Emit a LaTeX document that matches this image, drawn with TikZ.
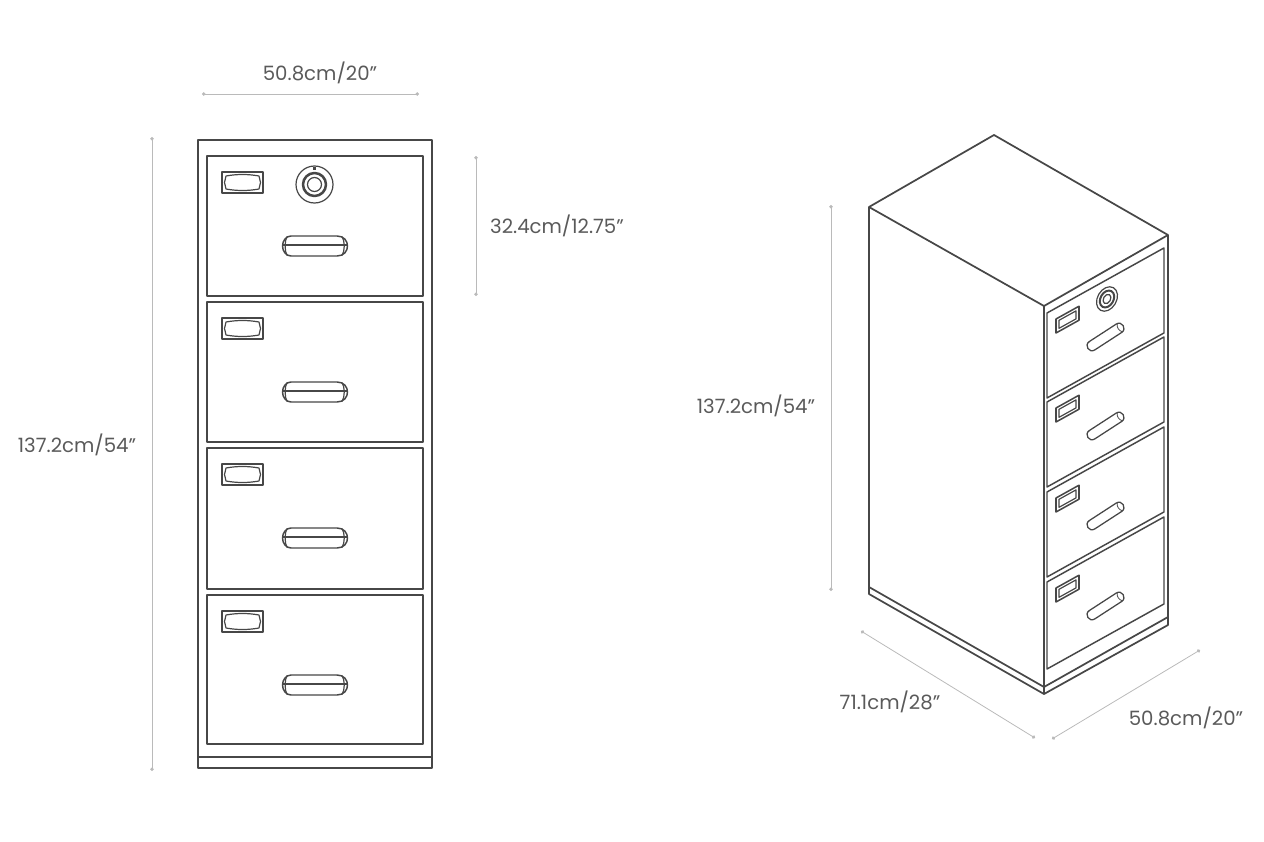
\documentclass[tikz,border=0pt]{standalone}
\usepackage{fontspec}
\setmainfont{Poppins}
\usetikzlibrary{arrows.meta}
\definecolor{ink}{HTML}{474747}
\definecolor{dimline}{HTML}{BABABA}
\definecolor{dimtext}{HTML}{5A5A5A}
\tikzset{
  cab/.style={draw=ink,line width=1.3pt,line join=round},
  thin part/.style={draw=ink,line width=.9pt,line join=round},
  dim/.style={draw=dimline,line width=.6pt,{Circle[length=2.6pt]}-{Circle[length=2.6pt]}},
  dimlabel/.style={text=dimtext,font=\fontsize{14.8pt}{16pt}\selectfont,inner sep=0pt,anchor=center}
}
% front-view label plate and handle, relative to drawer's top-left corner
\newcommand{\frontbits}[2]{%
  \begin{scope}[shift={(#1,#2)}]
    \draw[thin part] (15,16) rectangle (56,37);
    \draw[thin part] (19,20) .. controls (30,18) and (41,18) .. (52,20) -- (53.5,26.5) -- (52,33) .. controls (41,35) and (30,35) .. (19,33) -- (17.5,26.5) -- cycle;
    \draw[cab,line width=1.1pt] (84,80) -- (130,80) .. controls (137,80) and (140.5,85) .. (140.5,90) .. controls (140.5,95) and (137,100) .. (130,100) -- (84,100) .. controls (79,100) and (75.5,95) .. (75.5,90) .. controls (75.5,85) and (79,80) .. (84,80) -- cycle;
    \draw[thin part] (76,89) -- (140,89);
    \draw[thin part] (80,80.5) .. controls (77.5,85) and (77.5,95) .. (80,99.5);
    \draw[thin part] (135,80.5) .. controls (138,85) and (138,95) .. (135,99.5);
  \end{scope}
}
% iso-view drawer, plate and handle, relative to drawer's top-left corner
\newcommand{\isodrawer}[3]{%
  \begin{scope}[shift={(#1,#2)},yslant=0.556]
    \draw[cab,line width=1.1pt] (0,0) rectangle (117,#3);
    \draw[cab,line width=1.15pt] (9,11) rectangle (32,25);
    \draw[thin part] (12,14) rectangle (29,22);
  \end{scope}
  \begin{scope}[shift={(#1,#2)},shift={(58.5,24)},rotate=33]
    \draw[cab,line width=.95pt] (-16,-5) -- (16,-5) .. controls (22.7,-5) and (22.7,5) .. (16,5) -- (-16,5) .. controls (-22.7,5) and (-22.7,-5) .. (-16,-5) -- cycle;
    \draw[thin part,line width=.6pt] (17,-4.8) .. controls (14.5,-2) and (14.5,2) .. (17,4.8);
  \end{scope}
}
\begin{document}
\begin{tikzpicture}[x=.75pt,y=-.75pt]
\useasboundingbox (0,0) rectangle (1264,842);
% ---- front view
\draw[cab] (198,140) rectangle (432,768);
\draw[cab] (198,757) -- (432,757);
\draw[cab] (207,156) rectangle (423,296);
\draw[cab] (207,302) rectangle (423,442);
\draw[cab] (207,448) rectangle (423,589);
\draw[cab] (207,595) rectangle (423,744);
\frontbits{207}{156}
\frontbits{207}{302}
\frontbits{207}{448}
\frontbits{207}{595}
% front-view lock
\draw[thin part] (314.5,184.5) circle (18.5);
\draw[cab,line width=1.9pt] (314.5,184.5) circle (11.5);
\draw[thin part] (314.5,184.5) circle (7);
\fill[ink] (313.4,166.5) rectangle (315.6,170);
% ---- iso view
\draw[cab] (869,207) -- (994,135) -- (1168,235) -- (1044,306) -- cycle;
\draw[cab] (869,207) -- (869,594) -- (1044,694) -- (1168,625) -- (1168,235);
\draw[cab] (1044,306) -- (1044,694);
\draw[cab] (869,587) -- (1044,687) -- (1168,617);
\isodrawer{1047}{313}{85}
\isodrawer{1047}{402}{85}
\isodrawer{1047}{492}{85}
\isodrawer{1047}{582}{87}
% iso-view lock
\begin{scope}[shift={(1107,299)},rotate=-30]
  \draw[thin part] (0,0) ellipse (9.5 and 13);
  \draw[cab,line width=1.5pt] (0,0) ellipse (6.5 and 9);
  \draw[thin part] (0,0) ellipse (3.5 and 5);
\end{scope}
% ---- dimensions
\coordinate (wA) at (202,94);  \coordinate (wB) at (419,94);
\coordinate (hA) at (152,137); \coordinate (hB) at (152,771);
\coordinate (dA) at (476,156); \coordinate (dB) at (476,296);
\coordinate (iA) at (831,205); \coordinate (iB) at (831,591);
\coordinate (lA) at (861,631); \coordinate (lB) at (1035,738);
\coordinate (rA) at (1052,739); \coordinate (rB) at (1200,650);
\draw[dim] (wA) -- (wB);
\draw[dim] (hA) -- (hB);
\draw[dim] (dA) -- (dB);
\draw[dim] (iA) -- (iB);
\draw[dim] (lA) -- (lB);
\draw[dim] (rA) -- (rB);
\node[dimlabel] (t1) at (320,73) {50.8cm/20"};
\node[dimlabel] (t2) at (557,226) {32.4cm/12.75"};
\node[dimlabel] (t3) at (77,445) {137.2cm/54"};
\node[dimlabel] (t4) at (756,406) {137.2cm/54"};
\node[dimlabel] (t5) at (890,702) {71.1cm/28"};
\node[dimlabel] (t6) at (1186,718) {50.8cm/20"};
\end{tikzpicture}
\end{document}
